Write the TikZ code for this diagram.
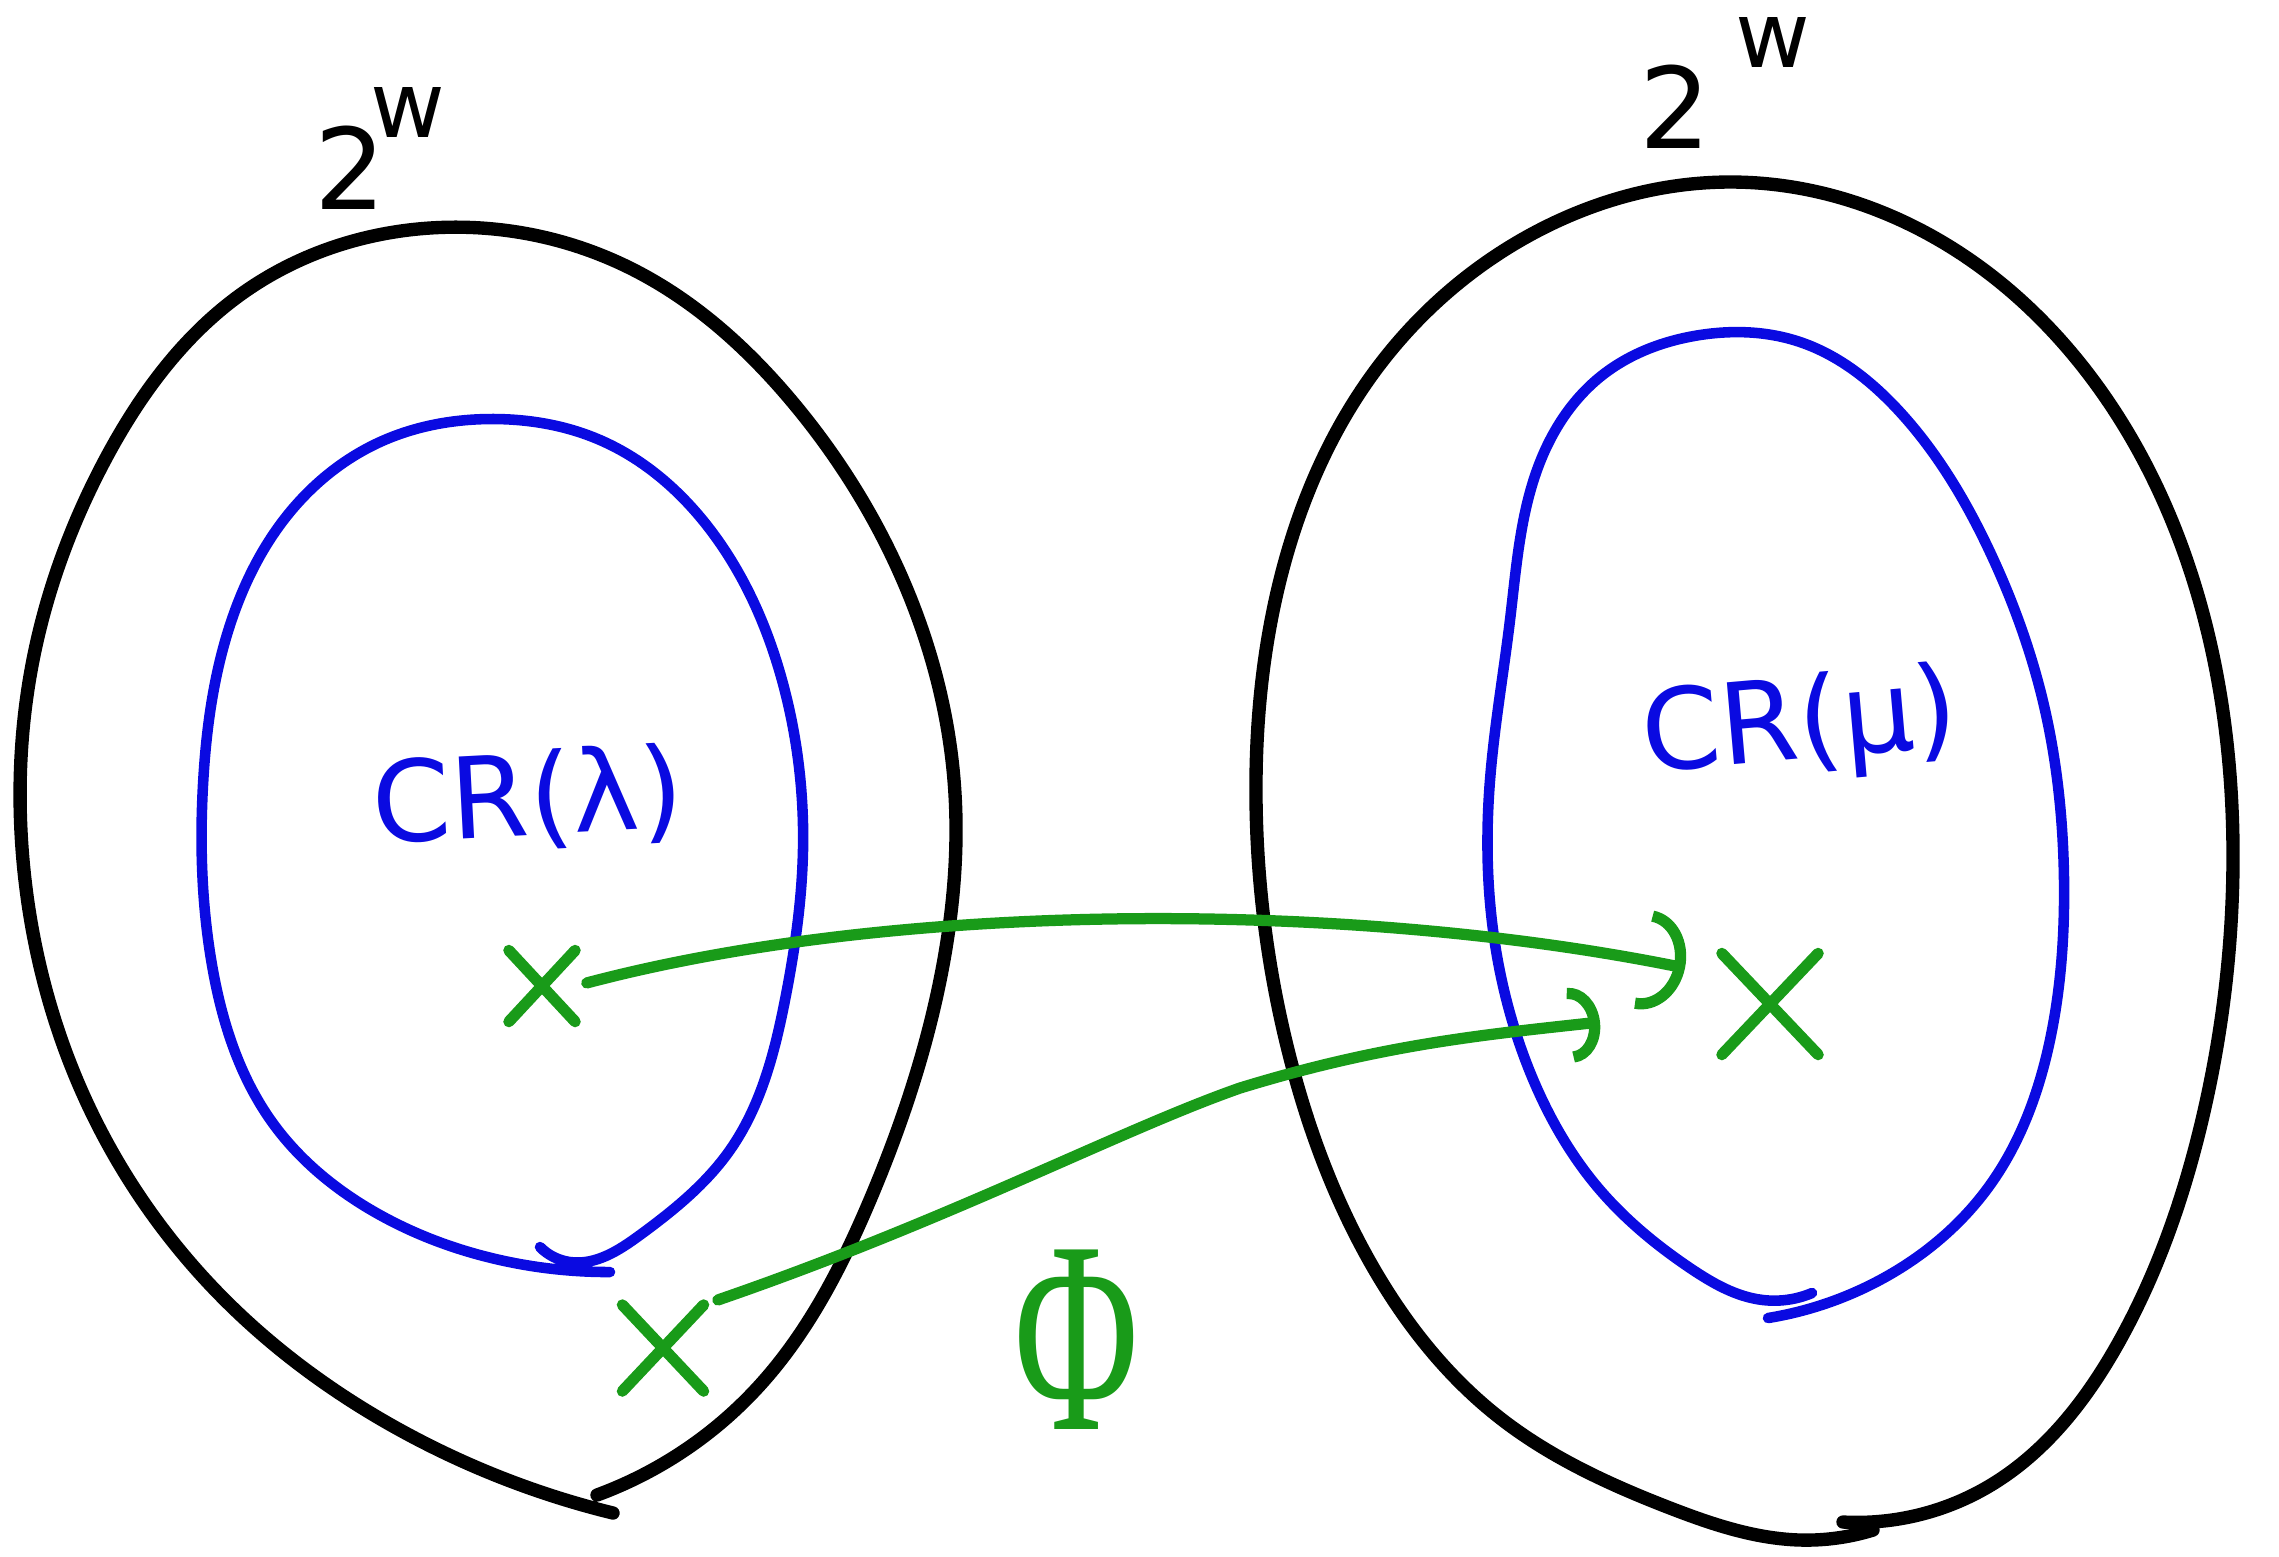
\documentclass[tikz,border=0pt]{standalone}
\usepackage{fontspec}
\usetikzlibrary{arrows.meta,shapes.misc,hobby}
\newfontfamily\handfont{DejaVu Sans}
\newfontfamily\phifont{Liberation Serif}
\definecolor{penblue}{RGB}{10,10,225}
\definecolor{pengreen}{RGB}{25,155,25}

\tikzset{
  outer/.style={draw=black, line width=3.8pt, line cap=round, use Hobby shortcut},
  inner/.style={draw=penblue, line width=3pt, line cap=round, use Hobby shortcut},
  pt/.style={cross out, draw=pengreen, line width=3.2pt, line cap=round, inner sep=0pt},
  conn/.style={draw=pengreen, line width=3.2pt, line cap=round},
  lbl/.style={font=\handfont\fontsize{32}{38}\selectfont, inner sep=0pt},
  sup/.style={font=\handfont\fontsize{26}{30}\selectfont, inner sep=0pt},
}

\begin{document}
\begin{tikzpicture}[x=0.01cm, y=-0.01cm]
\useasboundingbox (0,0) rectangle (2279,1556);

    % left set
    \draw[outer] (597,1495) .. (760,1385) .. (870,1200) .. (938,990) .. (954,780) .. (905,585) .. (795,405) .. (630,268) .. (430,228) .. (240,295) .. (105,460) .. (33,660) .. (25,880) .. (88,1105) .. (220,1295) .. (400,1430) .. (613,1513);
    \node[lbl] (twoL) at (350,168) {2};
    \node[sup] (wL) at (408,112) {w};

    \draw[inner] (540,1247) .. (570,1262) .. (640,1235) .. (730,1150) .. (785,1000) .. (803,850) .. (782,680) .. (712,532) .. (600,440) .. (494,419) .. (380,442) .. (290,512) .. (230,625) .. (203,785) .. (212,965) .. (272,1122) .. (380,1215) .. (500,1260) .. (610,1272);
    \node[lbl, text=penblue, rotate=3] (crL) at (528,800) {CR(λ)};

    % right set
    \draw[outer] (1843,1522) .. (1991,1485) .. (2120,1340) .. (2202,1120) .. (2233,860) .. (2202,610) .. (2093,380) .. (1930,235) .. (1730,182) .. (1530,235) .. (1372,375) .. (1280,580) .. (1256,800) .. (1288,1050) .. (1370,1262) .. (1500,1418) .. (1670,1508) .. (1800,1540) .. (1873,1530);
    \node[lbl] (twoR) at (1675,107) {2};
    \node[sup] (wR) at (1773,42) {w};

    \draw[inner] (1768,1318) .. (1880,1280) .. (1990,1185) .. (2050,1040) .. (2064,880) .. (2045,710) .. (1990,552) .. (1900,412) .. (1800,342) .. (1700,335) .. (1600,377) .. (1540,462) .. (1510,620) .. (1490,780) .. (1493,930) .. (1530,1072) .. (1600,1190) .. (1690,1268) .. (1763,1300) .. (1812,1293);
    \node[lbl, text=penblue, rotate=5] (crR) at (1800,728) {CR(μ)};

    % points and the map
    \node[pt, minimum width=0.55cm, minimum height=0.6cm] (xl) at (542,986) {};
    \node[pt, minimum width=0.7cm, minimum height=0.75cm] (xb) at (663,1348) {};
    \node[pt, minimum width=0.85cm, minimum height=0.9cm] (xr) at (1770,1004) {};
    \coordinate (tipA) at (1685,968);
    \coordinate (tipB) at (1600,1022);

    \draw[conn, -{Arc Barb[width=1cm, length=0.42cm]}, shorten <=0.12cm] (xl.east) .. controls (900,900) and (1350,900) .. (tipA);
    \draw[conn, -{Arc Barb[width=0.75cm, length=0.3cm]}, shorten <=0.15cm] (xb.north east) .. controls (950,1220) and (1120,1130) .. (1240,1088) .. controls (1380,1045) and (1480,1035) .. (tipB);

    \node[font=\phifont\fontsize{78}{80}\selectfont, text=pengreen, xscale=0.62, inner sep=0pt] (phi) at (1077,1340) {Φ};

\end{tikzpicture}
\end{document}
